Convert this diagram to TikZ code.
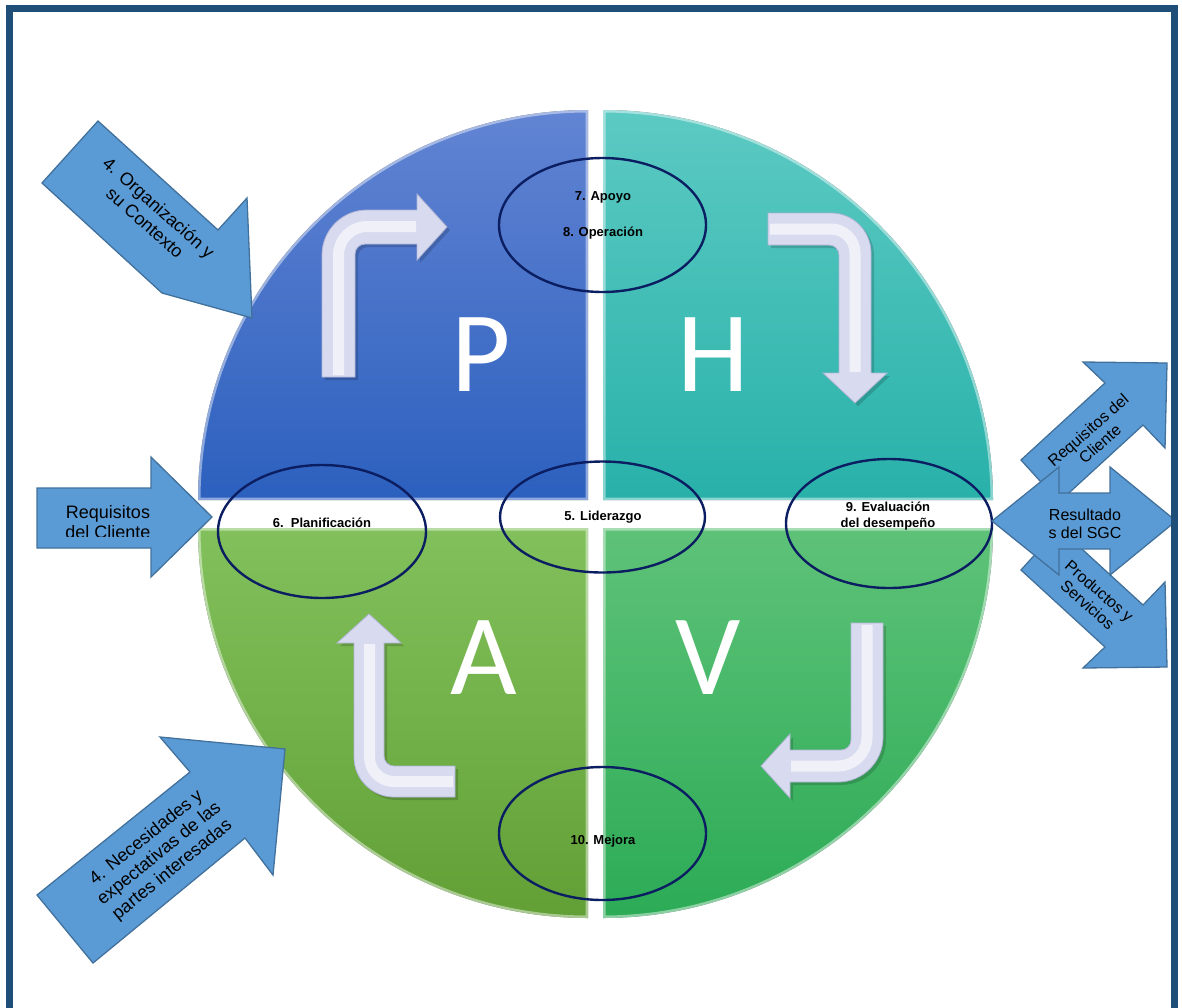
\documentclass[tikz,border=0pt]{standalone}
\usepackage{fontspec}
\setmainfont{Liberation Sans}
\newfontfamily\letterfont{Carlito}
\usetikzlibrary{shapes.geometric}

\definecolor{frameblue}{RGB}{31,78,121}
\definecolor{arrowfill}{RGB}{91,155,213}
\definecolor{arrowline}{RGB}{65,113,156}
\definecolor{ringnavy}{RGB}{12,30,98}
\definecolor{pTop}{RGB}{98,132,211}
\definecolor{pBot}{RGB}{44,96,190}
\definecolor{hTop}{RGB}{92,202,195}
\definecolor{hBot}{RGB}{40,177,169}
\definecolor{aTop}{RGB}{130,192,92}
\definecolor{aBot}{RGB}{98,160,54}
\definecolor{vTop}{RGB}{94,194,120}
\definecolor{vBot}{RGB}{44,171,86}
\definecolor{tubeFill}{RGB}{216,219,239}
\definecolor{tubeEdge}{RGB}{176,181,214}

\tikzset{
  bevel/.style={draw=white, draw opacity=0.45, line width=5pt},
  tube/.style={fill=tubeFill, draw=tubeEdge, line width=0.8pt, line join=miter},
  tubeshine/.style={draw=white, line width=11pt, draw opacity=0.6},
  tubeshadow/.style={fill=black, fill opacity=0.16},
  blockarrow/.style={fill=arrowfill, draw=arrowline, line width=1.3pt, line join=miter},
  ring/.style={ellipse, draw=ringnavy, line width=2.4pt, inner sep=0pt},
  ringtext/.style={font=\fontsize{13}{16}\selectfont\bfseries, align=center, inner sep=0pt},
  arrowtext/.style={font=\fontsize{18}{20.7}\selectfont, align=center, inner sep=0pt},
  smalltext/.style={font=\fontsize{16}{18}\selectfont, align=center, inner sep=0pt},
  bigletter/.style={font=\letterfont\fontsize{115}{115}\selectfont, text=white, inner sep=0pt}
}

\begin{document}
\begin{tikzpicture}[x=1pt,y=-1pt]
\path[use as bounding box] (0,0) rectangle (1182,1007);
\clip (0,0) rectangle (1182,1007);

% ---- the four quadrants of the PHVA cycle ----
\fill[top color=pTop, bottom color=pBot]
  (588,500) -- ++(-390,0) arc[start angle=180,end angle=270,radius=390] -- cycle;
\fill[top color=hTop, bottom color=hBot]
  (603,500) -- ++(0,-390) arc[start angle=270,end angle=360,radius=390] -- cycle;
\fill[top color=aTop, bottom color=aBot]
  (588,528) -- ++(-390,0) arc[start angle=180,end angle=90,radius=390] -- cycle;
\fill[top color=vTop, bottom color=vBot]
  (603,528) -- ++(390,0) arc[start angle=0,end angle=90,radius=390] -- cycle;

% light rims along the quadrant edges
\path[bevel] (588,500) -- ++(-390,0) arc[start angle=180,end angle=270,radius=390] -- cycle;
\path[bevel] (603,500) -- ++(0,-390) arc[start angle=270,end angle=360,radius=390] -- cycle;
\path[bevel] (588,528) -- ++(-390,0) arc[start angle=180,end angle=90,radius=390] -- cycle;
\path[bevel] (603,528) -- ++(390,0) arc[start angle=0,end angle=90,radius=390] -- cycle;

% ---- bent white arrows (P: up-right, H: right-down, V: down-left, A: left-up) ----
\begin{scope}[shift={(3,3)}]
  \fill[tubeshadow] (322,377) -- (322,255) arc[start angle=180,end angle=270,radius=45]
    -- (417,210) -- (417,194) -- (447,227) -- (417,260) -- (417,244) -- (365,244)
    arc[start angle=270,end angle=180,radius=10] -- (355,377) -- cycle;
  \fill[tubeshadow] (768,213) -- (831,213) arc[start angle=270,end angle=360,radius=40]
    -- (871,373) -- (887,373) -- (855,403) -- (823,373) -- (839,373) -- (839,255)
    arc[start angle=0,end angle=-90,radius=10] -- (768,245) -- cycle;
  \fill[tubeshadow] (455,797) -- (394,797) arc[start angle=90,end angle=180,radius=40]
    -- (354,643) -- (337,643) -- (369,614) -- (401,643) -- (384,643) -- (384,756)
    arc[start angle=180,end angle=90,radius=10] -- (455,766) -- cycle;
  \fill[tubeshadow] (851,623) -- (883,623) -- (883,737) arc[start angle=0,end angle=90,radius=45]
    -- (790,782) -- (790,798) -- (761,766) -- (790,734) -- (790,750) -- (841,750)
    arc[start angle=90,end angle=0,radius=10] -- cycle;
\end{scope}

\path[tube] (322,377) -- (322,255) arc[start angle=180,end angle=270,radius=45]
  -- (417,210) -- (417,194) -- (447,227) -- (417,260) -- (417,244) -- (365,244)
  arc[start angle=270,end angle=180,radius=10] -- (355,377) -- cycle;
\draw[tubeshine] (338.5,375) -- (338.5,255) arc[start angle=180,end angle=270,radius=28.5] -- (416,226.5);

\path[tube] (768,213) -- (831,213) arc[start angle=270,end angle=360,radius=40]
  -- (871,373) -- (887,373) -- (855,403) -- (823,373) -- (839,373) -- (839,255)
  arc[start angle=0,end angle=-90,radius=10] -- (768,245) -- cycle;
\draw[tubeshine] (770,229) -- (831,229) arc[start angle=270,end angle=360,radius=24] -- (855,372);

\path[tube] (455,797) -- (394,797) arc[start angle=90,end angle=180,radius=40]
  -- (354,643) -- (337,643) -- (369,614) -- (401,643) -- (384,643) -- (384,756)
  arc[start angle=180,end angle=90,radius=10] -- (455,766) -- cycle;
\draw[tubeshine] (453,781.5) -- (394,781.5) arc[start angle=90,end angle=180,radius=24.5] -- (369.5,644);

\path[tube] (851,623) -- (883,623) -- (883,737) arc[start angle=0,end angle=90,radius=45]
  -- (790,782) -- (790,798) -- (761,766) -- (790,734) -- (790,750) -- (841,750)
  arc[start angle=90,end angle=0,radius=10] -- cycle;
\draw[tubeshine] (867,625) -- (867,737) arc[start angle=0,end angle=90,radius=29] -- (791,766);

% ---- cycle letters ----
\node[bigletter] (letterP) at (481,355) {P};
\node[bigletter] (letterH) at (713,355) {H};
\node[bigletter] (letterA) at (484,658) {A};
\node[bigletter] (letterV) at (708,658) {V};

% ---- clause rings ----
\node[ring, minimum width=207pt, minimum height=134pt] (ringSupport) at (602.5,225) {};
\node[ring, minimum width=208pt, minimum height=133pt] (ringPlan) at (322,531.5) {};
\node[ring, minimum width=205pt, minimum height=111pt] (ringLead) at (602.5,517) {};
\node[ring, minimum width=206pt, minimum height=129pt] (ringEval) at (889,523.5) {};
\node[ring, minimum width=207pt, minimum height=133pt] (ringImprove) at (602.5,833.5) {};

\node[ringtext] (txtSupport) at (603,197) {7. Apoyo};
\node[ringtext] (txtOperation) at (603,233) {8. Operación};
\node[ringtext] (txtPlan) at (322,523) {6.\ \ Planificación};
\node[ringtext] (txtLead) at (603,517) {5. Liderazgo};
\node[ringtext] (txtEval) at (888,516) {9. Evaluación\\del desempeño};
\node[ringtext] (txtImprove) at (603,841) {10. Mejora};

% ---- inputs on the left ----
\path[blockarrow] (42,183) -- (98,121) -- (218,230) -- (247,198) -- (252,318) -- (162,293) -- cycle;
\node[arrowtext, rotate=-41.5] (inContext) at (152,215) {4. Organización y\\su Contexto};

\path[blockarrow] (37,488) -- (151,488) -- (151,457) -- (212,517) -- (151,577) -- (151,548) -- (37,548) -- cycle;
\begin{scope}
  \clip (37,457) rectangle (212,536);
  \node[arrowtext] (inRequirements) at (108,522) {Requisitos\\del Cliente};
\end{scope}

\path[blockarrow] (93,963) -- (37,895) -- (190,772) -- (160,737) -- (285,749) -- (273,875) -- (245,838) -- cycle;
\node[arrowtext, rotate=39] (inParties) at (159.5,854) {4. Necesidades y\\expectativas de las\\partes interesadas};

% ---- outputs on the right ----
\path[blockarrow] (1021,460) -- (1105,383) -- (1083,362) -- (1167,363) -- (1165,448) -- (1143,425) -- (1059,502) -- cycle;
\node[smalltext, rotate=41] (outRequirements) at (1094,437) {Requisitos del\\Cliente};

\path[blockarrow] (1021,570) -- (1105,647) -- (1083,668) -- (1167,667) -- (1165,582) -- (1143,605) -- (1059,528) -- cycle;
\node[smalltext, rotate=-41] (outProducts) at (1093.5,598) {Productos y\\Servicios};

\path[blockarrow] (992,521) -- (1059,467) -- (1059,493) -- (1110,493) -- (1110,467) -- (1176,521)
  -- (1110,575) -- (1110,549) -- (1059,549) -- (1059,575) -- cycle;
\node[smalltext] (outResults) at (1085,524) {Resultado\\s del SGC};

% ---- page frame ----
\draw[frameblue, line width=7pt] (9.5,8.5) rectangle (1174,1040);
\end{tikzpicture}
\end{document}
